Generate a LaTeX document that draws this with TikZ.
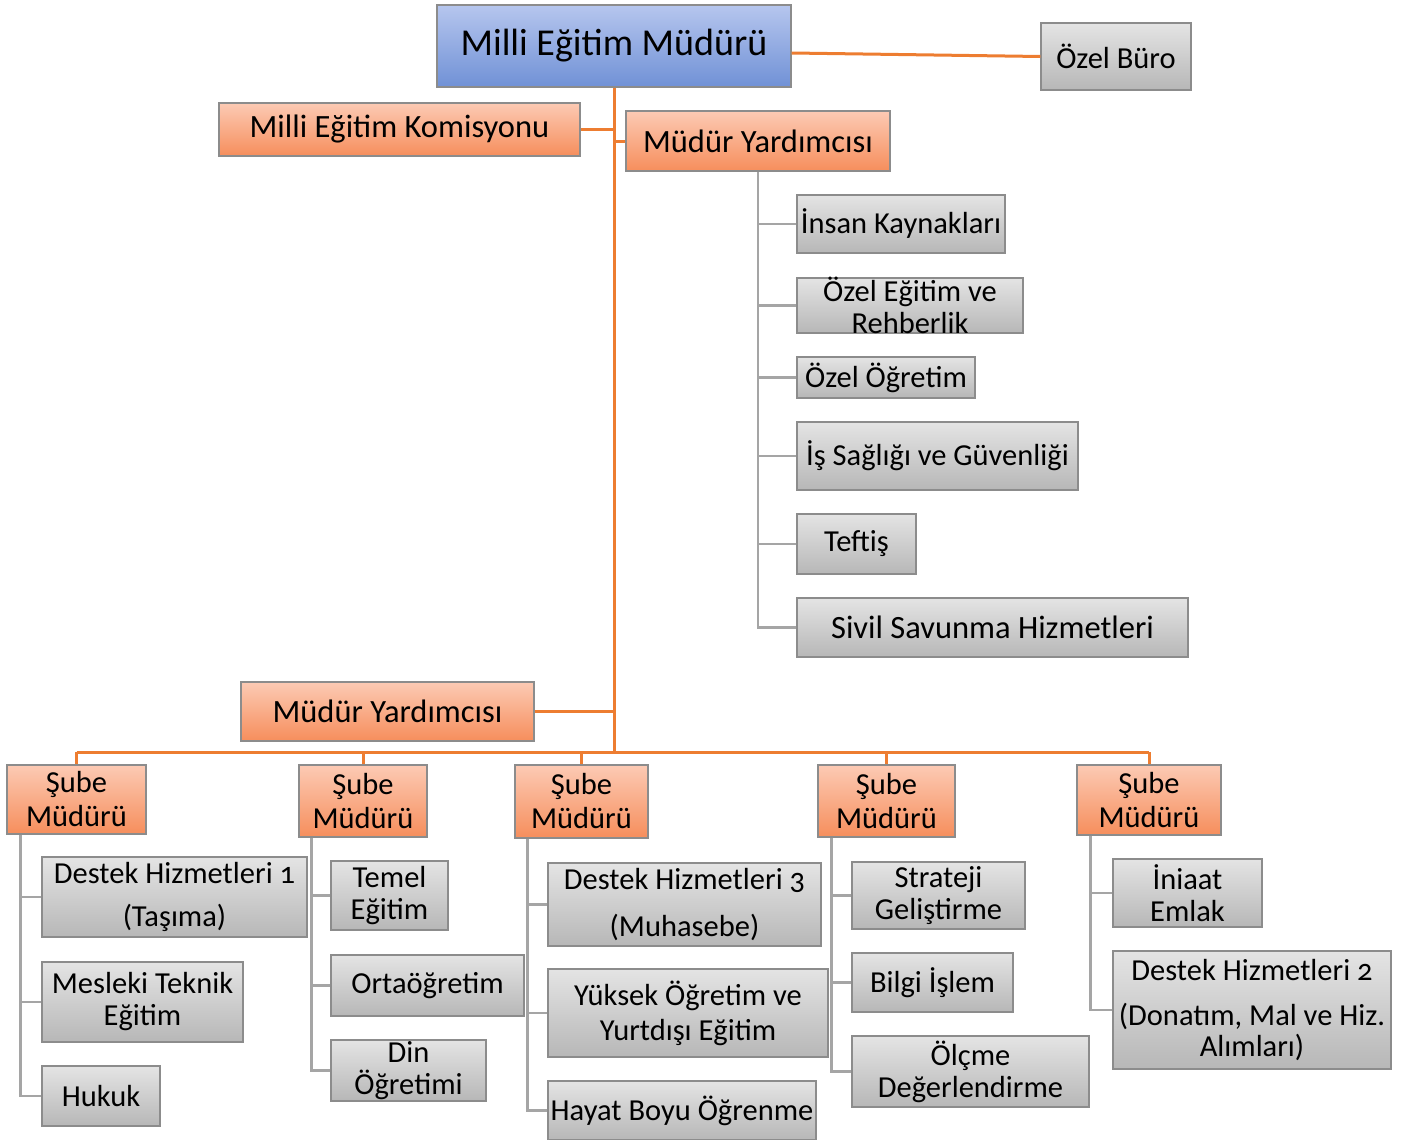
\documentclass[tikz,border=0pt]{standalone}
\usepackage{fontspec}
\setmainfont{Carlito}[Numbers=OldStyle]
\definecolor{bluetop}{RGB}{182,198,238}
\definecolor{bluebot}{RGB}{112,145,214}
\definecolor{ortop}{RGB}{252,202,180}
\definecolor{orbot}{RGB}{246,142,92}
\definecolor{grtop}{RGB}{228,228,228}
\definecolor{grbot}{RGB}{183,183,183}
\definecolor{edge}{RGB}{140,140,140}
\definecolor{oline}{RGB}{237,125,49}
\definecolor{gline}{RGB}{165,165,165}
\newcommand\obox[7]{%
  \node[#2, minimum width={#5pt-#3pt}, minimum height={#6pt-#4pt}] (#1) at ({(#3+#5)/2},{(#4+#6)/2}) {};
  \node[txt] (#1-t) at (#1.center) {#7};}
\newcommand\bigtxt{\fontsize{32.5}{35}\selectfont}
\begin{document}
\begin{tikzpicture}[x=1pt,y=-1pt,
  base/.style={draw=edge, line width=1.4pt, inner sep=0pt, rectangle},
  bluebox/.style={base, top color=bluetop, bottom color=bluebot},
  orbox/.style={base, top color=ortop, bottom color=orbot},
  grbox/.style={base, top color=grtop, bottom color=grbot},
  txt/.style={align=center, inner sep=0pt, font=\fontsize{30.5}{33}\selectfont},
  ol/.style={draw=oline, line width=3pt},
  gl/.style={draw=gline, line width=2.8pt}]
\useasboundingbox (0,0) rectangle (1408,1140);
% top level
\obox{top}{bluebox}{437}{5}{791}{87}{\fontsize{38}{42}\selectfont Milli Eğitim Müdürü}
\obox{buro}{grbox}{1041}{23}{1191}{90}{Özel Büro}
\obox{kom}{orbox}{219}{103}{580}{156}{\bigtxt Milli Eğitim Komisyonu}
\obox{my1}{orbox}{626}{111}{890}{171}{\bigtxt Müdür Yardımcısı}
\obox{my2}{orbox}{241}{682}{534}{741}{\bigtxt Müdür Yardımcısı}
% right column
\obox{c1}{grbox}{797}{195}{1005}{253}{İnsan Kaynakları}
\obox{c2}{grbox}{797}{278}{1023}{333}{Özel Eğitim ve\\[-1pt]Rehberlik}
\obox{c3}{grbox}{797}{357}{975}{398}{Özel Öğretim}
\obox{c4}{grbox}{797}{422}{1078}{490}{İş Sağlığı ve Güvenliği}
\obox{c5}{grbox}{797}{514}{916}{574}{Teftiş}
\obox{c6}{grbox}{797}{598}{1188}{657}{\bigtxt Sivil Savunma Hizmetleri}
% sube mudurleri
\obox{s1}{orbox}{7}{765}{146}{834}{Şube\\[1pt]Müdürü}
\obox{s2}{orbox}{299}{765}{427}{837}{Şube\\[1pt]Müdürü}
\obox{s3}{orbox}{515}{765}{648}{838}{Şube\\[1pt]Müdürü}
\obox{s4}{orbox}{818}{765}{955}{837}{Şube\\[1pt]Müdürü}
\obox{s5}{orbox}{1077}{765}{1221}{835}{Şube\\[1pt]Müdürü}
% children
\obox{a1}{grbox}{42}{857}{307}{937}{Destek Hizmetleri 1\\[10pt](Taşıma)}
\obox{a2}{grbox}{42}{962}{243}{1042}{Mesleki Teknik\\[-1pt]Eğitim}
\obox{a3}{grbox}{42}{1066}{160}{1126}{Hukuk}
\obox{b1}{grbox}{331}{861}{448}{930}{Temel\\[-1pt]Eğitim}
\obox{b2}{grbox}{331}{955}{524}{1016}{Ortaöğretim}
\obox{b3}{grbox}{331}{1040}{486}{1101}{Din\\[-1pt]Öğretimi}
\obox{d1}{grbox}{548}{863}{821}{946}{Destek Hizmetleri 3\\[14pt](Muhasebe)}
\obox{d2}{grbox}{548}{969}{828}{1057}{Yüksek Öğretim ve\\[2pt]Yurtdışı Eğitim}
\obox{d3}{grbox}{548}{1081}{816}{1140}{Hayat Boyu Öğrenme}
\obox{e1}{grbox}{852}{862}{1025}{929}{Strateji\\[-1pt]Geliştirme}
\obox{e2}{grbox}{852}{953}{1013}{1012}{Bilgi İşlem}
\obox{e3}{grbox}{852}{1036}{1089}{1107}{Ölçme\\[-1pt]Değerlendirme}
\obox{f1}{grbox}{1113}{859}{1262}{927}{İniaat\\[-1pt]Emlak}
\obox{f2}{grbox}{1113}{951}{1391}{1069}{Destek Hizmetleri 2\\[12pt](Donatım, Mal ve Hiz.\\[-2pt]Alımları)}
% orange connectors
\coordinate (bus) at (613,752);
\draw[ol] (top.south) -- (top.south |- bus);
\draw[ol] ([yshift=-7pt]top.east) -- (buro.west);
\draw[ol] (kom.east) -- (kom.east -| top.south);
\draw[ol] (my1.west) -- (my1.west -| top.south);
\draw[ol] (my2.east) -- (my2.east -| top.south);
\draw[ol] (s1.north |- bus) -- (s5.north |- bus);
\foreach \s in {s1,s2,s3,s4,s5} \draw[ol] (\s.north |- bus) -- (\s.north);
% gray connectors
\draw[gl] (my1.south) |- (c6.west);
\foreach \c in {c1,c2,c3,c4,c5} \draw[gl] (my1.south |- \c.west) -- (\c.west);
\draw[gl] ([xshift=14pt]s1.south west) |- (a3.west);
\foreach \c in {a1,a2} \draw[gl] ([xshift=14pt]s1.south west |- \c.west) -- (\c.west);
\draw[gl] ([xshift=13pt]s2.south west) |- (b3.west);
\foreach \c in {b1,b2} \draw[gl] ([xshift=13pt]s2.south west |- \c.west) -- (\c.west);
\draw[gl] ([xshift=13pt]s3.south west) |- (d3.west);
\foreach \c in {d1,d2} \draw[gl] ([xshift=13pt]s3.south west |- \c.west) -- (\c.west);
\draw[gl] ([xshift=14pt]s4.south west) |- (e3.west);
\foreach \c in {e1,e2} \draw[gl] ([xshift=14pt]s4.south west |- \c.west) -- (\c.west);
\draw[gl] ([xshift=14pt]s5.south west) |- (f2.west);
\draw[gl] ([xshift=14pt]s5.south west |- f1.west) -- (f1.west);
\end{tikzpicture}
\end{document}
